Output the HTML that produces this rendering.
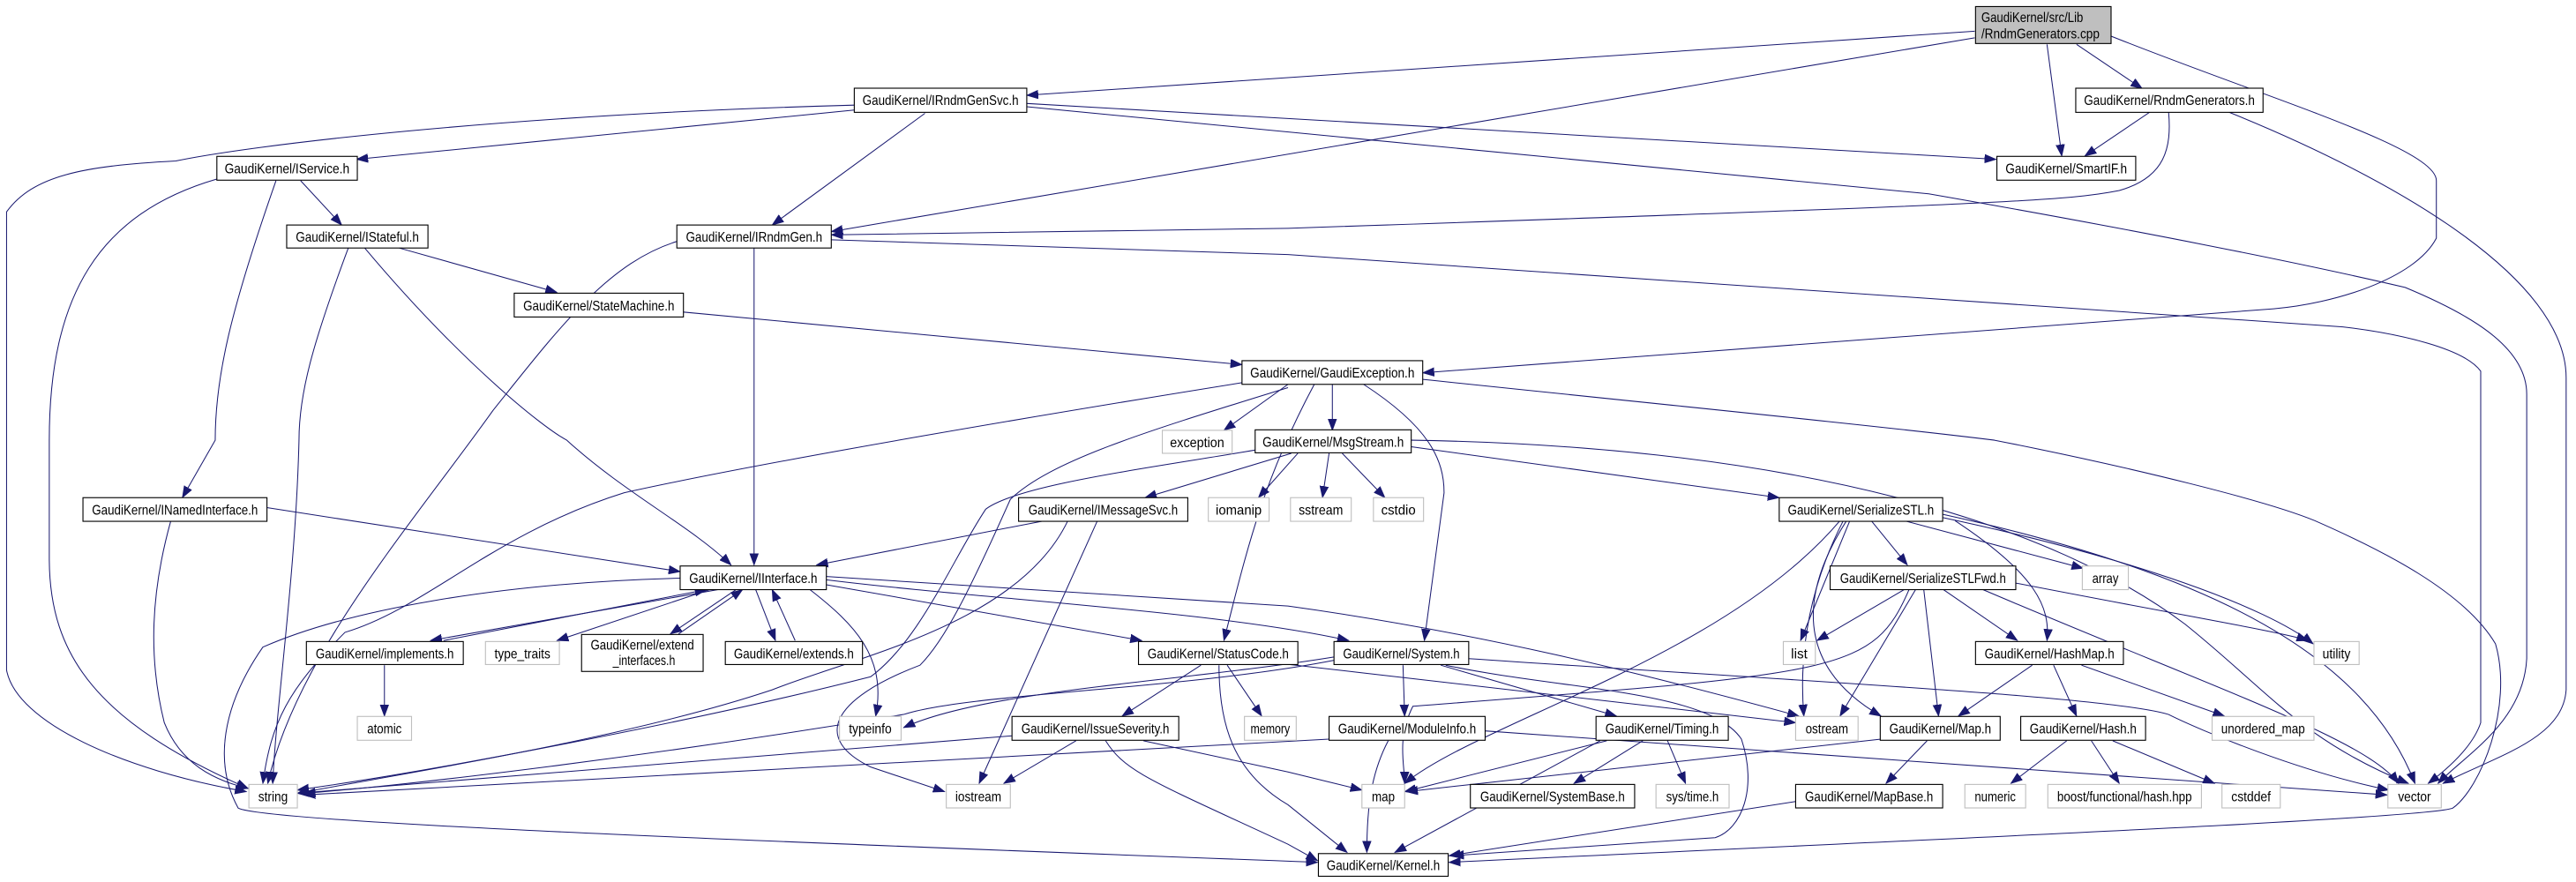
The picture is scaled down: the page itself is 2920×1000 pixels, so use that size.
<!DOCTYPE html>
<html><head><meta charset="utf-8"><style>
html,body{margin:0;padding:0;background:#fff;}
svg{display:block;}
text{font-family:"Liberation Sans",sans-serif;font-size:8.2px;fill:#000;}
.n{fill:#fff;stroke:#000;stroke-width:0.6;}
.g{fill:#fff;stroke:#bfbfbf;stroke-width:0.6;}
.e{fill:none;stroke:#191970;stroke-width:0.55;marker-end:url(#a);}
</style></head><body>
<svg width="2920" height="1000" viewBox="0 0 1568 537" preserveAspectRatio="none" xmlns="http://www.w3.org/2000/svg">
<defs><marker id="a" markerUnits="userSpaceOnUse" markerWidth="8" markerHeight="6" refX="7" refY="3" orient="auto"><path d="M0,0.4 L7,3 L0,5.6 z" fill="#191970" stroke="#191970" stroke-width="0.4"/></marker></defs>

<path class="e" d="M1202,19 L625,58"/>
<path class="e" d="M1202,23 L506,141"/>
<path class="e" d="M1246,27 L1255,95"/>
<path class="e" d="M1264,27 L1304,54"/>
<path class="e" d="M1285,22 C1380,60 1483,90 1483,110 L1483,145 C1470,170 1420,185 1384,188 L866,227"/>
<path class="e" d="M1309,68 L1269,95"/>
<path class="e" d="M1320,68 C1322,90 1318,108 1290,116 C1260,122 1230,124 784,139 L506,143"/>
<path class="e" d="M1356,68 C1460,110 1562,170 1562,230 L1562,420 C1560,450 1520,460 1487,477"/>
<path class="e" d="M520,64 C300,70 150,89 107,98 C50,101 20,107 4,129 L4,408 C10,440 75,469 150,482"/>
<path class="e" d="M520,67 L217,97"/>
<path class="e" d="M563,69 L470,137"/>
<path class="e" d="M625,63 L1215,97"/>
<path class="e" d="M625,65 L1174,118 C1300,140 1400,160 1464,175 C1500,190 1538,210 1538,240 L1538,401 C1536,440 1500,460 1484,477"/>
<path class="e" d="M506,146 L784,155 L1426,199 C1460,203 1500,212 1510,226 L1510,440 C1505,455 1490,468 1478,477"/>
<path class="e" d="M168,110 C140,190 131,230 131,268 L111,303"/>
<path class="e" d="M132,109 C60,130 30,180 30,268 L30,340 C30,400 60,440 151,480"/>
<path class="e" d="M183,110 L208,137"/>
<path class="e" d="M243,151 L339,178"/>
<path class="e" d="M212,151 C190,210 182,240 182,268 C180,350 168,430 166,477"/>
<path class="e" d="M222,151 C280,220 330,260 345,268 C380,300 420,320 445,344"/>
<path class="e" d="M459,151 L459,344"/>
<path class="e" d="M412,147 C370,160 340,200 300,250 C250,320 180,400 163,477"/>
<path class="e" d="M416,190 L756,222"/>
<path class="e" d="M162,309 L414,348"/>
<path class="e" d="M104,317 C92,360 90,400 100,440 C110,465 130,475 151,480"/>
<path class="e" d="M784,234 L745,262"/>
<path class="e" d="M811,234 L811,262"/>
<path class="e" d="M756,233 C650,250 470,280 380,300 C300,325 260,370 210,385 C175,420 165,440 160,477"/>
<path class="e" d="M784,236 C700,262 640,280 615,304 C590,360 575,390 560,405 C505,426 495,450 530,467 L575,482"/>
<path class="e" d="M800,234 C770,290 760,330 745,390"/>
<path class="e" d="M830,234 C870,260 879,280 879,300 L867,390"/>
<path class="e" d="M866,231 C1000,245 1150,260 1214,268 C1300,285 1380,305 1409,317 C1450,335 1500,360 1519,392 C1530,430 1510,480 1493,492 C1480,498 1200,510 882,525"/>
<path class="e" d="M636,317 L497,344"/>
<path class="e" d="M650,317 C620,380 520,400 470,420 C380,450 250,470 181,483"/>
<path class="e" d="M668,317 L596,477"/>
<path class="e" d="M786,276 L697,303"/>
<path class="e" d="M790,276 L766,303"/>
<path class="e" d="M809,276 L805,303"/>
<path class="e" d="M817,276 L843,303"/>
<path class="e" d="M859,272 L1083,303"/>
<path class="e" d="M764,274 C700,285 620,295 600,310 C580,340 560,390 530,412 C420,440 260,470 181,481"/>
<path class="e" d="M859,268 C1100,272 1250,320 1330,380 C1380,420 1400,450 1466,477"/>
<path class="e" d="M437,359 L262,390"/>
<path class="e" d="M270,390 L430,359"/>
<path class="e" d="M432,359 L339,390"/>
<path class="e" d="M448,359 L408,386"/>
<path class="e" d="M413,386 L452,359"/>
<path class="e" d="M460,359 L472,390"/>
<path class="e" d="M484,390 L470,359"/>
<path class="e" d="M493,359 C520,380 540,400 533,436"/>
<path class="e" d="M503,356 L695,390"/>
<path class="e" d="M503,353 C600,365 740,372 821,390"/>
<path class="e" d="M503,351 L784,369 C900,385 1000,410 1095,436"/>
<path class="e" d="M414,352 C300,355 210,372 160,394 C135,430 130,465 145,492 C160,500 400,510 802,525"/>
<path class="e" d="M234,405 L234,436"/>
<path class="e" d="M731,405 L683,436"/>
<path class="e" d="M747,405 L768,436"/>
<path class="e" d="M742,405 C742,440 750,470 784,490 L820,519"/>
<path class="e" d="M780,404 L1093,440"/>
<path class="e" d="M812,400 C720,415 600,420 550,443"/>
<path class="e" d="M812,402 C720,420 590,422 550,435 C400,460 250,478 185,483"/>
<path class="e" d="M854,405 L855,436"/>
<path class="e" d="M877,405 L984,436"/>
<path class="e" d="M894,401 C1100,415 1284,424 1320,435 C1340,445 1400,470 1454,481"/>
<path class="e" d="M880,405 C950,420 1040,420 1060,450 C1070,480 1060,505 1044,510 L884,521"/>
<path class="e" d="M809,450 L185,484"/>
<path class="e" d="M845,451 C835,470 832,490 832,519"/>
<path class="e" d="M904,445 L1453,484"/>
<path class="e" d="M616,448 L181,483"/>
<path class="e" d="M655,451 L611,477"/>
<path class="e" d="M696,451 L784,470 L829,481"/>
<path class="e" d="M673,451 C685,470 700,475 784,514 L802,524"/>
<path class="e" d="M1000,451 L958,477"/>
<path class="e" d="M1015,451 L1026,477"/>
<path class="e" d="M978,451 L855,482"/>
<path class="e" d="M974,451 L849,519"/>
<path class="e" d="M1139,317 L1161,344"/>
<path class="e" d="M1159,317 L1268,346"/>
<path class="e" d="M1126,317 L1096,390"/>
<path class="e" d="M1190,317 C1240,350 1248,370 1246,390"/>
<path class="e" d="M1182,315 C1300,340 1380,370 1408,392"/>
<path class="e" d="M1182,313 C1350,350 1440,400 1470,477"/>
<path class="e" d="M1122,317 C1100,360 1095,400 1098,436"/>
<path class="e" d="M1120,317 C1050,400 900,440 855,477"/>
<path class="e" d="M1124,317 C1090,370 1100,410 1145,436"/>
<path class="e" d="M1159,359 L1106,390"/>
<path class="e" d="M1183,359 L1228,390"/>
<path class="e" d="M1171,359 L1180,436"/>
<path class="e" d="M1166,359 L1120,436"/>
<path class="e" d="M1227,355 C1330,375 1390,385 1405,390"/>
<path class="e" d="M1207,359 C1350,420 1440,450 1460,477"/>
<path class="e" d="M1162,359 C1140,410 1120,410 860,430 C850,450 855,465 855,477"/>
<path class="e" d="M1237,405 L1192,436"/>
<path class="e" d="M1250,405 L1264,436"/>
<path class="e" d="M1267,405 L1354,436"/>
<path class="e" d="M1145,450 L856,482"/>
<path class="e" d="M1173,451 L1148,477"/>
<path class="e" d="M1258,451 L1224,477"/>
<path class="e" d="M1273,451 L1290,477"/>
<path class="e" d="M1286,451 L1348,477"/>
<path class="e" d="M1093,488 L882,521"/>

<rect x="1202.5" y="4" width="82.5" height="22.5" fill="#bfbfbf" stroke="#000" stroke-width="0.6"/>
<text x="1206" y="13.5" textLength="62" lengthAdjust="spacingAndGlyphs">GaudiKernel/src/Lib</text>
<text x="1206" y="23.5" textLength="72" lengthAdjust="spacingAndGlyphs">/RndmGenerators.cpp</text>

<rect class="n" x="520" y="53.7" width="105" height="14.7"/><text x="572.5" y="64" text-anchor="middle" textLength="95" lengthAdjust="spacingAndGlyphs">GaudiKernel/IRndmGenSvc.h</text>
<rect class="n" x="1263.5" y="53.7" width="114" height="14.7"/><text x="1320.5" y="64" text-anchor="middle" textLength="104" lengthAdjust="spacingAndGlyphs">GaudiKernel/RndmGenerators.h</text>
<rect class="n" x="132" y="95.2" width="85.5" height="14.5"/><text x="174.7" y="105.5" text-anchor="middle" textLength="76" lengthAdjust="spacingAndGlyphs">GaudiKernel/IService.h</text>
<rect class="n" x="1215.5" y="95.2" width="84.5" height="14.5"/><text x="1257.7" y="105.5" text-anchor="middle" textLength="74" lengthAdjust="spacingAndGlyphs">GaudiKernel/SmartIF.h</text>
<rect class="n" x="174.5" y="137" width="86" height="14"/><text x="217.5" y="147.2" text-anchor="middle" textLength="75" lengthAdjust="spacingAndGlyphs">GaudiKernel/IStateful.h</text>
<rect class="n" x="412" y="137" width="94" height="14"/><text x="459" y="147.2" text-anchor="middle" textLength="83" lengthAdjust="spacingAndGlyphs">GaudiKernel/IRndmGen.h</text>
<rect class="n" x="313" y="178.5" width="103" height="14.5"/><text x="364.5" y="188.9" text-anchor="middle" textLength="92" lengthAdjust="spacingAndGlyphs">GaudiKernel/StateMachine.h</text>
<rect class="n" x="756" y="219.6" width="110" height="14.4"/><text x="811" y="229.9" text-anchor="middle" textLength="100" lengthAdjust="spacingAndGlyphs">GaudiKernel/GaudiException.h</text>
<rect class="g" x="707.5" y="262" width="42.5" height="14"/><text x="728.7" y="272.2" text-anchor="middle" textLength="33" lengthAdjust="spacingAndGlyphs">exception</text>
<rect class="n" x="764" y="261.7" width="95" height="14"/><text x="811.5" y="272" text-anchor="middle" textLength="86" lengthAdjust="spacingAndGlyphs">GaudiKernel/MsgStream.h</text>

<rect class="n" x="50.5" y="303" width="112" height="14.4"/><text x="106.5" y="313.3" text-anchor="middle" textLength="101" lengthAdjust="spacingAndGlyphs">GaudiKernel/INamedInterface.h</text>
<rect class="n" x="620" y="303" width="103" height="14.4"/><text x="671.5" y="313.3" text-anchor="middle" textLength="91" lengthAdjust="spacingAndGlyphs">GaudiKernel/IMessageSvc.h</text>
<rect class="g" x="735.5" y="303" width="37" height="14.4"/><text x="754" y="313.3" text-anchor="middle" textLength="28" lengthAdjust="spacingAndGlyphs">iomanip</text>
<rect class="g" x="785.5" y="303" width="37" height="14.4"/><text x="804" y="313.3" text-anchor="middle" textLength="27" lengthAdjust="spacingAndGlyphs">sstream</text>
<rect class="g" x="836" y="303" width="30.5" height="14.4"/><text x="851.2" y="313.3" text-anchor="middle" textLength="21" lengthAdjust="spacingAndGlyphs">cstdio</text>
<rect class="n" x="1083" y="303" width="99.5" height="14.4"/><text x="1132.7" y="313.3" text-anchor="middle" textLength="89" lengthAdjust="spacingAndGlyphs">GaudiKernel/SerializeSTL.h</text>

<rect class="n" x="414" y="344.6" width="89" height="14.4"/><text x="458.5" y="354.9" text-anchor="middle" textLength="78" lengthAdjust="spacingAndGlyphs">GaudiKernel/IInterface.h</text>
<rect class="n" x="1114" y="344.6" width="113" height="14.4"/><text x="1170.5" y="354.9" text-anchor="middle" textLength="101" lengthAdjust="spacingAndGlyphs">GaudiKernel/SerializeSTLFwd.h</text>
<rect class="g" x="1267.5" y="344.6" width="28" height="14.4"/><text x="1281.5" y="354.9" text-anchor="middle" textLength="16" lengthAdjust="spacingAndGlyphs">array</text>

<rect class="n" x="186.5" y="390.6" width="95.5" height="14"/><text x="234.2" y="400.8" text-anchor="middle" textLength="84" lengthAdjust="spacingAndGlyphs">GaudiKernel/implements.h</text>
<rect class="g" x="295.5" y="390.6" width="45" height="14"/><text x="318" y="400.8" text-anchor="middle" textLength="34" lengthAdjust="spacingAndGlyphs">type_traits</text>
<rect class="n" x="354" y="386.3" width="74" height="22.5"/><text x="391" y="395.5" text-anchor="middle" textLength="63" lengthAdjust="spacingAndGlyphs">GaudiKernel/extend</text><text x="392" y="405" text-anchor="middle" textLength="38" lengthAdjust="spacingAndGlyphs">_interfaces.h</text>
<rect class="n" x="441.5" y="390.6" width="83.5" height="14"/><text x="483.2" y="400.8" text-anchor="middle" textLength="73" lengthAdjust="spacingAndGlyphs">GaudiKernel/extends.h</text>
<rect class="n" x="693" y="390.6" width="97" height="14"/><text x="741.5" y="400.8" text-anchor="middle" textLength="86" lengthAdjust="spacingAndGlyphs">GaudiKernel/StatusCode.h</text>
<rect class="n" x="812" y="390.6" width="82" height="14"/><text x="853" y="400.8" text-anchor="middle" textLength="71" lengthAdjust="spacingAndGlyphs">GaudiKernel/System.h</text>
<rect class="g" x="1085.5" y="390.6" width="19.5" height="14"/><text x="1095.2" y="400.8" text-anchor="middle">list</text>
<rect class="n" x="1202.5" y="390.6" width="90" height="14"/><text x="1247.5" y="400.8" text-anchor="middle" textLength="79" lengthAdjust="spacingAndGlyphs">GaudiKernel/HashMap.h</text>
<rect class="g" x="1408.5" y="390.6" width="27.5" height="14"/><text x="1422.2" y="400.8" text-anchor="middle" textLength="17" lengthAdjust="spacingAndGlyphs">utility</text>

<rect class="g" x="217.5" y="436.2" width="33" height="14.5"/><text x="234" y="446.5" text-anchor="middle" textLength="21" lengthAdjust="spacingAndGlyphs">atomic</text>
<rect class="g" x="511" y="436.2" width="37.5" height="14.5"/><text x="529.7" y="446.5" text-anchor="middle" textLength="26" lengthAdjust="spacingAndGlyphs">typeinfo</text>
<rect class="n" x="616" y="436.2" width="101.5" height="14.5"/><text x="666.7" y="446.5" text-anchor="middle" textLength="90" lengthAdjust="spacingAndGlyphs">GaudiKernel/IssueSeverity.h</text>
<rect class="g" x="757.5" y="436.2" width="31.5" height="14.5"/><text x="773.2" y="446.5" text-anchor="middle" textLength="24" lengthAdjust="spacingAndGlyphs">memory</text>
<rect class="n" x="809" y="436.2" width="95" height="14.5"/><text x="856.5" y="446.5" text-anchor="middle" textLength="84" lengthAdjust="spacingAndGlyphs">GaudiKernel/ModuleInfo.h</text>
<rect class="n" x="971.5" y="436.2" width="80.5" height="14.5"/><text x="1011.7" y="446.5" text-anchor="middle" textLength="69" lengthAdjust="spacingAndGlyphs">GaudiKernel/Timing.h</text>
<rect class="g" x="1093" y="436.2" width="38" height="14.5"/><text x="1112" y="446.5" text-anchor="middle" textLength="26" lengthAdjust="spacingAndGlyphs">ostream</text>
<rect class="n" x="1144.5" y="436.2" width="73" height="14.5"/><text x="1181" y="446.5" text-anchor="middle" textLength="62" lengthAdjust="spacingAndGlyphs">GaudiKernel/Map.h</text>
<rect class="n" x="1230" y="436.2" width="76" height="14.5"/><text x="1268" y="446.5" text-anchor="middle" textLength="65" lengthAdjust="spacingAndGlyphs">GaudiKernel/Hash.h</text>
<rect class="g" x="1346.5" y="436.2" width="62" height="14.5"/><text x="1377.5" y="446.5" text-anchor="middle" textLength="51" lengthAdjust="spacingAndGlyphs">unordered_map</text>

<rect class="g" x="151.5" y="477.6" width="29.5" height="14.3"/><text x="166.2" y="487.8" text-anchor="middle" textLength="18" lengthAdjust="spacingAndGlyphs">string</text>
<rect class="g" x="576" y="477.6" width="39" height="14.3"/><text x="595.5" y="487.8" text-anchor="middle" textLength="28" lengthAdjust="spacingAndGlyphs">iostream</text>
<rect class="g" x="829" y="477.6" width="26" height="14.3"/><text x="842" y="487.8" text-anchor="middle" textLength="14" lengthAdjust="spacingAndGlyphs">map</text>
<rect class="n" x="895" y="477.6" width="100" height="14.3"/><text x="945" y="487.8" text-anchor="middle" textLength="88" lengthAdjust="spacingAndGlyphs">GaudiKernel/SystemBase.h</text>
<rect class="g" x="1008" y="477.6" width="44.5" height="14.3"/><text x="1030.2" y="487.8" text-anchor="middle" textLength="32" lengthAdjust="spacingAndGlyphs">sys/time.h</text>
<rect class="n" x="1093" y="477.6" width="89.5" height="14.3"/><text x="1137.7" y="487.8" text-anchor="middle" textLength="78" lengthAdjust="spacingAndGlyphs">GaudiKernel/MapBase.h</text>
<rect class="g" x="1196" y="477.6" width="37" height="14.3"/><text x="1214.5" y="487.8" text-anchor="middle" textLength="25" lengthAdjust="spacingAndGlyphs">numeric</text>
<rect class="g" x="1246.5" y="477.6" width="93.5" height="14.3"/><text x="1293.2" y="487.8" text-anchor="middle" textLength="82" lengthAdjust="spacingAndGlyphs">boost/functional/hash.hpp</text>
<rect class="g" x="1352.5" y="477.6" width="35.5" height="14.3"/><text x="1370.2" y="487.8" text-anchor="middle" textLength="24" lengthAdjust="spacingAndGlyphs">cstddef</text>
<rect class="g" x="1453.5" y="477.6" width="32.5" height="14.3"/><text x="1469.7" y="487.8" text-anchor="middle" textLength="20" lengthAdjust="spacingAndGlyphs">vector</text>

<rect class="n" x="802.5" y="519.7" width="79" height="13.8"/><text x="842" y="529.8" text-anchor="middle" textLength="69" lengthAdjust="spacingAndGlyphs">GaudiKernel/Kernel.h</text>
</svg>
</body></html>
